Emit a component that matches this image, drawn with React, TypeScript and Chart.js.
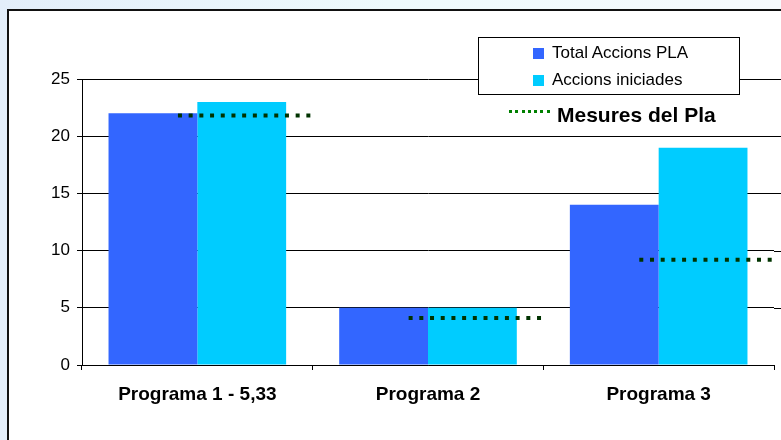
import React, { useEffect, useRef } from "react";
import { Chart, registerables } from "chart.js";

Chart.register(...registerables);

const categories = ["Programa 1 - 5,33", "Programa 2", "Programa 3"];
const totalAccions = [22, 5, 14];
const accionsIniciades = [23, 5, 19];
const mesuresPla = [21.8, 4.1, 9.2];
const yMin = 0;
const yMax = 25;
const yStep = 5;

const FONT = "'Liberation Sans', Arial, sans-serif";

const mesuresPlugin = {
  id: "mesures",
  afterDatasetsDraw(chart: any) {
    const x = chart.scales.x;
    const y = chart.scales.y;
    const ctx = chart.ctx;
    const cw = x.width / categories.length;
    ctx.save();
    ctx.strokeStyle = "#003300";
    ctx.lineWidth = 4;
    ctx.lineCap = "butt";
    ctx.setLineDash([4, 6.7]);
    mesuresPla.forEach((v, i) => {
      const xc = x.getPixelForValue(i);
      const py = y.getPixelForValue(v);
      ctx.beginPath();
      ctx.moveTo(xc - 0.084 * cw, py);
      ctx.lineTo(xc + 0.49 * cw, py);
      ctx.stroke();
    });
    ctx.restore();
  },
};

const gridExtendPlugin = {
  id: "gridExtend",
  beforeDatasetsDraw(chart: any) {
    const y = chart.scales.y;
    const ctx = chart.ctx;
    const area = chart.chartArea;
    ctx.save();
    ctx.strokeStyle = "#000";
    ctx.lineWidth = 1;
    y.ticks.forEach((t: any) => {
      if (t.value === yMin) return;
      const py = Math.round(y.getPixelForValue(t.value)) + 0.5;
      ctx.beginPath();
      ctx.moveTo(area.right, py);
      ctx.lineTo(chart.width, py);
      ctx.stroke();
    });
    ctx.restore();
  },
};

export default function App() {
  const ref = useRef<HTMLCanvasElement | null>(null);

  useEffect(() => {
    if (!ref.current) return;
    const chart = new Chart(ref.current, {
      type: "bar",
      data: {
        labels: categories,
        datasets: [
          {
            label: "Total Accions PLA",
            data: totalAccions,
            backgroundColor: "#3366FF",
            borderWidth: 0,
            barPercentage: 1,
            categoryPercentage: 0.77,
          },
          {
            label: "Accions iniciades",
            data: accionsIniciades,
            backgroundColor: "#00CCFF",
            borderWidth: 0,
            barPercentage: 1,
            categoryPercentage: 0.77,
          },
        ],
      },
      options: {
        responsive: false,
        animation: false,
        layout: { padding: { left: 0, top: 79, right: 7, bottom: 0 } },
        plugins: {
          legend: { display: false },
          tooltip: { enabled: false },
        },
        scales: {
          x: {
            grid: {
              display: true,
              drawOnChartArea: false,
              drawTicks: true,
              tickLength: 5,
              color: "#000",
              offset: true,
            },
            border: { display: true, color: "#000", width: 1 },
            ticks: {
              font: { family: FONT, size: 19, weight: "bold" },
              color: "#000",
              padding: 13,
              maxRotation: 0,
              autoSkip: false,
            },
            afterFit(scale: any) {
              scale.height = 75;
            },
          },
          y: {
            min: yMin,
            max: yMax,
            ticks: {
              stepSize: yStep,
              font: { family: FONT, size: 17 },
              color: "#000",
              padding: 7,
            },
            grid: { color: "#000", tickLength: 5, lineWidth: 1 },
            border: { display: true, color: "#000", width: 1 },
            afterFit(scale: any) {
              scale.width = 82;
            },
          },
        },
      },
      plugins: [gridExtendPlugin, mesuresPlugin],
    } as any);
    return () => chart.destroy();
  }, []);

  return (
    <div
      style={{
        position: "fixed",
        left: 0,
        top: 0,
        width: 781,
        height: 440,
        overflow: "hidden",
        background:
          "linear-gradient(90deg, #e3eefa 0%, #eefafc 50%, #f6fafd 100%)",
        fontFamily: FONT,
      }}
    >
      <div
        style={{
          position: "absolute",
          left: 7,
          top: 9,
          width: 800,
          height: 460,
          borderLeft: "2px solid #111",
          borderTop: "2px solid #111",
          background: "#fff",
        }}
      />
      <canvas
        ref={ref}
        width={781}
        height={440}
        style={{ position: "absolute", left: 0, top: 0, width: 781, height: 440 }}
      />
      <div
        style={{
          position: "absolute",
          left: 478,
          top: 37,
          width: 262,
          height: 58,
          boxSizing: "border-box",
          border: "1px solid #000",
          background: "#fff",
          fontSize: 17,
          color: "#000",
        }}
      >
        <div style={{ position: "absolute", left: 54, top: 10, width: 11, height: 11, background: "#3366FF" }} />
        <div style={{ position: "absolute", left: 73, top: 5, lineHeight: "20px", whiteSpace: "nowrap" }}>
          Total Accions PLA
        </div>
        <div style={{ position: "absolute", left: 54, top: 37, width: 11, height: 11, background: "#00CCFF" }} />
        <div style={{ position: "absolute", left: 73, top: 32, lineHeight: "20px", whiteSpace: "nowrap" }}>
          Accions iniciades
        </div>
      </div>
      <div
        style={{
          position: "absolute",
          left: 509,
          top: 110,
          width: 44,
          height: 3,
          background:
            "repeating-linear-gradient(90deg, #008000 0px, #008000 3px, transparent 3px, transparent 6.3px)",
        }}
      />
      <div
        style={{
          position: "absolute",
          left: 557,
          top: 103,
          lineHeight: "24px",
          fontSize: 21,
          fontWeight: "bold",
          color: "#000",
          whiteSpace: "nowrap",
        }}
      >
        Mesures del Pla
      </div>
    </div>
  );
}
